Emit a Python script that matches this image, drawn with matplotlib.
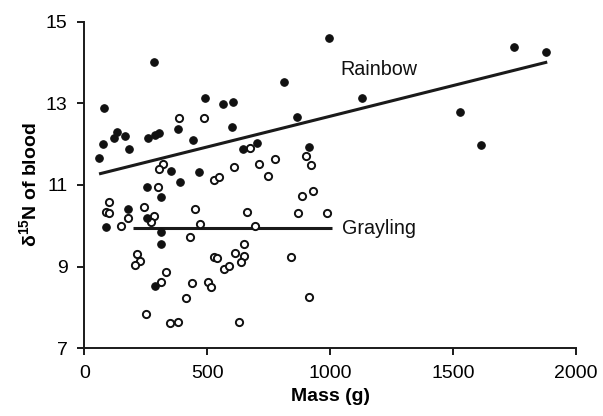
import numpy as np
import matplotlib
matplotlib.use('Agg')
import matplotlib.pyplot as plt

# Fontes estilo Arial
plt.rcParams['font.family'] = ['Liberation Sans', 'DejaVu Sans']
plt.rcParams['mathtext.fontset'] = 'custom'
plt.rcParams['mathtext.rm'] = 'Liberation Sans'
plt.rcParams['mathtext.it'] = 'Liberation Sans:italic'
plt.rcParams['mathtext.bf'] = 'Liberation Sans:bold'

# Dados: Rainbow (pontos cheios)
rainbow_mass = [285, 996, 80, 490, 565, 605, 813, 600, 865, 381, 441, 60, 75, 120,
                133, 167, 183, 258, 286, 302, 644, 704, 915, 353, 468, 390, 257,
                312, 179, 89, 255, 312, 312, 286, 1129, 1749, 1878, 1527, 1615]
rainbow_d15n = [14.02, 14.6, 12.88, 13.13, 12.99, 13.02, 13.53, 12.42, 12.66, 12.37,
                12.10, 11.65, 12.0, 12.14, 12.29, 12.19, 11.88, 12.14, 12.22, 12.28,
                11.88, 12.04, 11.93, 11.34, 11.31, 11.07, 10.95, 10.71, 10.41, 9.96,
                10.20, 9.86, 9.56, 8.53, 13.13, 14.38, 14.25, 12.79, 11.97]

# Dados: Grayling (pontos vazios)
grayling_mass = [384, 487, 673, 321, 305, 609, 709, 774, 900, 923, 747, 528, 546, 299,
                 884, 929, 101, 89, 101, 176, 150, 243, 284, 270, 452, 472, 428, 660,
                 696, 870, 989, 215, 228, 206, 332, 313, 440, 503, 514, 414, 253, 347,
                 380, 630, 527, 540, 570, 587, 612, 648, 649, 638, 842, 915]
grayling_d15n = [12.63, 12.64, 11.91, 11.52, 11.38, 11.45, 11.52, 11.63, 11.72, 11.48,
                 11.23, 11.11, 11.19, 10.95, 10.74, 10.85, 10.58, 10.34, 10.31, 10.18,
                 10.0, 10.45, 10.25, 10.1, 10.42, 10.05, 9.73, 10.33, 10.0, 10.32,
                 10.31, 9.32, 9.15, 9.03, 8.86, 8.62, 8.6, 8.63, 8.51, 8.22, 7.84, 7.61,
                 7.65, 7.64, 9.24, 9.21, 8.94, 9.01, 9.33, 9.56, 9.25, 9.12, 9.23, 8.25]

# Linhas de tendência
rainbow_fit_x = [60, 1883]
rainbow_fit_y = [11.27, 14.01]
grayling_fit_x = [197, 1006]
grayling_fit_y = [9.95, 9.95]

fig = plt.figure(figsize=(6.03, 4.16), dpi=100)
ax = fig.add_axes([0.1398, 0.1627, 0.8154, 0.7853])

ax.plot(rainbow_fit_x, rainbow_fit_y, color='#1a1a1a', lw=2.2, solid_capstyle='butt')
ax.plot(grayling_fit_x, grayling_fit_y, color='#1a1a1a', lw=2.2, solid_capstyle='butt')

ax.plot(grayling_mass, grayling_d15n, 'o', ms=5.2, mfc='white', mec='#111111', mew=1.4,
        linestyle='none')
ax.plot(rainbow_mass, rainbow_d15n, 'o', ms=5.4, mfc='#111111', mec='#111111', mew=0.8,
        linestyle='none')

ax.text(1040, 13.82, 'Rainbow', fontsize=14.2, va='center', ha='left', color='#111111')
ax.text(1047, 9.93, 'Grayling', fontsize=14.2, va='center', ha='left', color='#111111')

ax.set_xlim(0, 2000)
ax.set_ylim(7, 15)
ax.set_xticks([0, 500, 1000, 1500, 2000])
ax.set_yticks([7, 9, 11, 13, 15])

for s in ['top', 'right']:
    ax.spines[s].set_visible(False)
for s in ['left', 'bottom']:
    ax.spines[s].set_linewidth(1.4)
    ax.spines[s].set_color('#1a1a1a')

ax.tick_params(direction='out', length=5, width=1.4, labelsize=14, color='#1a1a1a',
               pad=7)

ax.set_xlabel('Mass (g)', fontsize=14, fontweight='bold', labelpad=4)
ax.set_ylabel(r'$\mathregular{\delta}^{\mathbf{15}}$N of blood', fontsize=14,
              fontweight='bold', labelpad=4)

fig.savefig('out.png', dpi=100)
